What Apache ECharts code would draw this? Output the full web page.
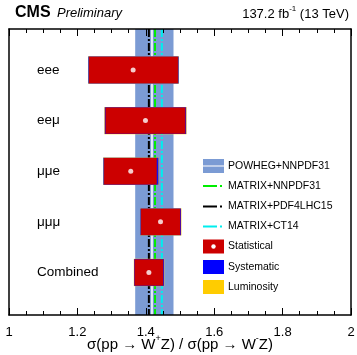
<!DOCTYPE html>
<html><head><meta charset="utf-8">
<script src="https://cdn.jsdelivr.net/npm/echarts@6/dist/echarts.min.js"></script>
<style>html,body{margin:0;padding:0;background:#fff}#c{width:357px;height:355px}</style>
</head><body><div id="c"></div>
<script>
// ---- data ----
const channels = ['eee', 'eeμ', 'μμe', 'μμμ', 'Combined'];
const rows     = [5, 4, 3, 2, 1];
const central  = [1.363, 1.399, 1.356, 1.443, 1.409];
const statLo   = [1.234, 1.282, 1.278, 1.386, 1.367];
const statHi   = [1.494, 1.516, 1.432, 1.501, 1.451];
const systLo   = [1.232, 1.280, 1.276, 1.384, 1.366];
const systHi   = [1.496, 1.518, 1.437, 1.503, 1.453];
const lumiLo   = [1.231, 1.279, 1.275, 1.383, 1.365];
const lumiHi   = [1.497, 1.519, 1.438, 1.504, 1.454];
const powheg   = [1.369, 1.418, 1.481];   // lo, central, hi
const theoryNames  = ['MATRIX+NNPDF31', 'MATRIX+PDF4LHC15', 'MATRIX+CT14'];
const theoryValues = [1.427, 1.409, 1.447];
const xTicks = [1, 1.2, 1.4, 1.6, 1.8, 2];

const theoryColors = ['#00ee00', '#000000', '#00eeee'];
const FONT = 'Liberation Sans, Arial, Helvetica, sans-serif';

const chart = echarts.init(document.getElementById('c'), null, {renderer: 'canvas'});

const boxData = channels.map((c, i) => [lumiLo[i], lumiHi[i], systLo[i], systHi[i], statLo[i], statHi[i], rows[i]]);
const dotData = channels.map((c, i) => [central[i], rows[i]]);
const labelData = channels.map((c, i) => [1.082, rows[i], c]);
const theoryData = theoryValues.map((v, i) => [v, i]);

function rectBetween(api, lo, hi, y, hh, color) {
  const p1 = api.coord([lo, y]);
  const p2 = api.coord([hi, y]);
  return {type: 'rect', shape: {x: p1[0], y: p1[1] - hh / 2, width: p2[0] - p1[0], height: hh}, style: {fill: color}};
}

const axisCommon = {
  type: 'value', min: 1, max: 2, interval: 0.2,
  axisLine: {show: true, lineStyle: {color: '#000', width: 1.5}},
  axisTick: {show: true, inside: true, length: 7, lineStyle: {color: '#000', width: 1}},
  minorTick: {show: true, splitNumber: 4, length: 4, lineStyle: {color: '#000', width: 1}},
  splitLine: {show: false},
  z: 10
};

const option = {
  animation: false,
  backgroundColor: '#fff',
  grid: {left: 9, right: 6, top: 29, bottom: 40, containLabel: false, outerBoundsMode: 'none'},
  xAxis: [
    Object.assign({}, axisCommon, {
      position: 'bottom',
      axisLabel: {show: true, fontSize: 13, color: '#000', fontFamily: FONT, margin: 11,
        formatter: v => (xTicks.indexOf(+v.toFixed(2)) >= 0 ? String(+v.toFixed(2)) : '')}
    }),
    Object.assign({}, axisCommon, {position: 'top', axisLabel: {show: false}})
  ],
  yAxis: [
    {type: 'value', min: 0.16, max: 5.81, position: 'left', z: 10,
     axisLine: {show: true, onZero: false, lineStyle: {color: '#000', width: 1.5}},
     axisTick: {show: false}, axisLabel: {show: false}, splitLine: {show: false}},
    {type: 'value', min: 0.16, max: 5.81, position: 'right', z: 10,
     axisLine: {show: true, onZero: false, lineStyle: {color: '#000', width: 1.5}},
     axisTick: {show: false}, axisLabel: {show: false}, splitLine: {show: false}}
  ],
  series: [
    { // POWHEG band
      type: 'custom', z: 1, silent: true,
      data: [[powheg[0], powheg[2], powheg[1]]],
      renderItem: (params, api) => {
        const cs = params.coordSys;
        const a = api.coord([api.value(0), 1])[0];
        const b = api.coord([api.value(1), 1])[0];
        const c = api.coord([api.value(2), 1])[0];
        return {type: 'group', children: [
          {type: 'rect', shape: {x: a, y: cs.y, width: b - a, height: cs.height}, style: {fill: '#7b9bd4'}},
          {type: 'line', shape: {x1: c, y1: cs.y, x2: c, y2: cs.y + cs.height}, style: {stroke: '#e4eaf6', lineWidth: 2}}
        ]};
      }
    },
    { // theory lines
      type: 'custom', z: 2, silent: true,
      data: theoryData,
      renderItem: (params, api) => {
        const cs = params.coordSys;
        const x = api.coord([api.value(0), 1])[0];
        return {type: 'line', shape: {x1: x, y1: cs.y, x2: x, y2: cs.y + cs.height},
          style: {stroke: theoryColors[api.value(1)], lineWidth: 2, lineDash: [8, 2, 2, 2]}};
      }
    },
    { // measurement boxes
      type: 'custom', z: 5, silent: true,
      data: boxData,
      encode: {x: [0, 1, 2, 3, 4, 5], y: 6},
      renderItem: (params, api) => {
        const y = api.value(6);
        const hh = api.size([0, 0.52])[1];
        return {type: 'group', children: [
          rectBetween(api, api.value(0), api.value(1), y, hh + 1, '#ffcc00'),
          rectBetween(api, api.value(2), api.value(3), y, hh + 0.5, '#1010ee'),
          rectBetween(api, api.value(4), api.value(5), y, hh, '#cc0000')
        ]};
      }
    },
    { // central values
      type: 'scatter', z: 6, silent: true,
      data: dotData, symbol: 'circle', symbolSize: 5,
      itemStyle: {color: '#ffffff'}
    },
    { // channel labels
      type: 'custom', z: 6, silent: true,
      data: labelData,
      encode: {x: 0, y: 1},
      renderItem: (params, api) => {
        const p = api.coord([api.value(0), api.value(1)]);
        return {type: 'text', x: p[0], y: p[1],
          style: {text: labelData[params.dataIndex][2], fill: '#000', fontSize: 13.5, fontFamily: FONT,
            align: 'left', verticalAlign: 'middle'}};
      }
    }
  ],
  graphic: []
};

// header + axis title
option.graphic.push(
  {type: 'text', left: 15, top: 5, z: 20, style: {text: 'CMS', font: 'bold 16px ' + FONT, fill: '#000'}},
  {type: 'text', left: 57, top: 7, z: 20, style: {text: 'Preliminary', font: 'italic 13px ' + FONT, fill: '#000'}},
  {type: 'text', right: 8, top: 5, z: 20, style: {
    text: '{n|137.2 fb}{s|-1}{n| (13 TeV)}',
    rich: {n: {fontSize: 13, fontFamily: FONT, fill: '#000', lineHeight: 16, verticalAlign: 'bottom'},
           s: {fontSize: 8, fontFamily: FONT, fill: '#000', lineHeight: 16, verticalAlign: 'top', padding: [0, 0, 7, 0]}}}},
  {type: 'text', x: 180, y: 343, z: 20, style: {
    text: '{n|σ(pp → W}{s|+}{n|Z) / σ(pp → W}{s|-}{n|Z)}',
    align: 'center', verticalAlign: 'middle',
    rich: {n: {fontSize: 15, fontFamily: FONT, fill: '#000', lineHeight: 18, verticalAlign: 'bottom'},
           s: {fontSize: 9, fontFamily: FONT, fill: '#000', lineHeight: 18, verticalAlign: 'top', padding: [0, 0, 8, 0]}}}}
);

// legend
const LX = 203, LW = 21, TX = 228;
const legendRows = [166, 186, 206.5, 226.5, 246.5, 267, 287];
const legendFont = '10.5px ' + FONT;
// POWHEG
option.graphic.push(
  {type: 'rect', z: 20, shape: {x: LX, y: legendRows[0] - 7, width: LW, height: 14}, style: {fill: '#7b9bd4'}},
  {type: 'line', z: 21, shape: {x1: LX, y1: legendRows[0], x2: LX + LW, y2: legendRows[0]}, style: {stroke: '#d8e0f2', lineWidth: 1.5}},
  {type: 'text', z: 20, x: TX, y: legendRows[0], style: {text: 'POWHEG+NNPDF31', font: legendFont, fill: '#000', verticalAlign: 'middle'}}
);
theoryNames.forEach((n, i) => {
  const y = legendRows[i + 1];
  option.graphic.push(
    {type: 'line', z: 20, shape: {x1: LX, y1: y, x2: LX + LW, y2: y}, style: {stroke: theoryColors[i], lineWidth: 2, lineDash: [14, 3, 2, 10]}},
    {type: 'text', z: 20, x: TX, y: y, style: {text: n, font: legendFont, fill: '#000', verticalAlign: 'middle'}}
  );
});
const boxLegend = [['Statistical', '#cc0000'], ['Systematic', '#0000ff'], ['Luminosity', '#ffcc00']];
boxLegend.forEach((b, i) => {
  const y = legendRows[i + 4];
  option.graphic.push(
    {type: 'rect', z: 20, shape: {x: LX, y: y - 7, width: LW, height: 14}, style: {fill: b[1]}},
    {type: 'text', z: 20, x: TX, y: y, style: {text: b[0], font: legendFont, fill: '#000', verticalAlign: 'middle'}}
  );
  if (i === 0) option.graphic.push({type: 'circle', z: 21, shape: {cx: LX + LW / 2, cy: y, r: 2.2}, style: {fill: '#fff'}});
});

chart.setOption(option);
</script>
</body></html>
